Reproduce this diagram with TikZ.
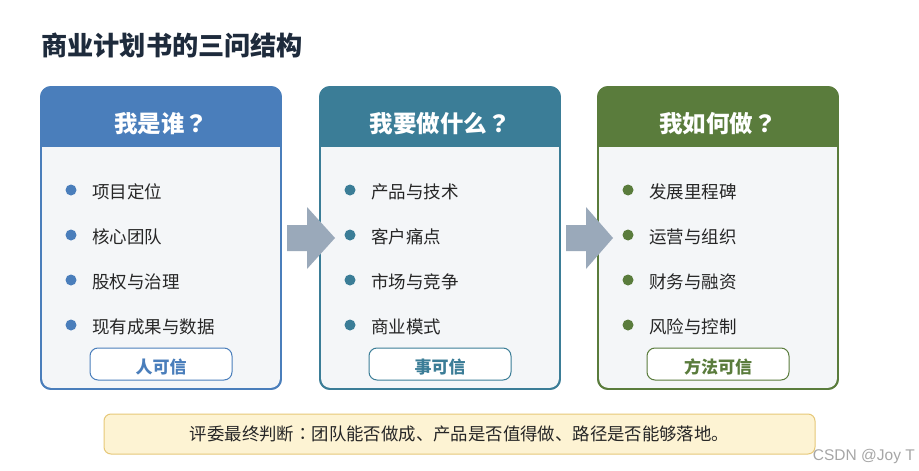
\documentclass[tikz,border=0pt]{standalone}
\usepackage{fontspec}
\setmainfont{Noto Sans CJK SC}
\newfontfamily\tcfont{Noto Sans CJK TC}
\newfontfamily\wmfont{Liberation Sans}
\newcommand{\fwq}{{\tcfont ？}}
\newcommand{\fwc}{{\tcfont ：}}
\usetikzlibrary{calc}
\definecolor{cblue}{HTML}{4A7EBB}
\definecolor{cteal}{HTML}{3B7D97}
\definecolor{cgreen}{HTML}{5A7C3C}
\definecolor{bodygray}{HTML}{F4F6F8}
\definecolor{titlecol}{HTML}{1E2B3C}
\definecolor{itemcol}{HTML}{262626}
\definecolor{arrowgray}{HTML}{9AA9BA}
\definecolor{notefill}{HTML}{FDF3D3}
\definecolor{notedraw}{HTML}{E6C878}
\tikzset{
  cardbox/.style={rectangle, rounded corners=10pt, minimum width=240pt, minimum height=302pt, outer sep=0pt, fill=bodygray, line width=1.8pt},
  headtext/.style={text=white, font=\fontsize{23.5}{26}\selectfont\bfseries, inner sep=0pt},
  dotmark/.style={circle, minimum size=11pt, inner sep=0pt},
  itemtext/.style={anchor=west, text=itemcol, font=\fontsize{17.5}{20}\selectfont, inner sep=0pt},
  btn/.style={rectangle, rounded corners=8pt, minimum width=142pt, minimum height=32pt, fill=white, line width=1pt, inner sep=0pt},
  btntext/.style={font=\fontsize{17}{20}\selectfont\bfseries, inner sep=0pt},
  blockarrow/.style={fill=arrowgray},
}
\begin{document}
\begin{tikzpicture}[x=1pt,y=-1pt]
\useasboundingbox (0,0) rectangle (919,471);
\fill[white] (0,0) rectangle (919,471);

\node[anchor=west, text=titlecol, font=\fontsize{26.2}{29}\selectfont\bfseries, inner sep=0pt] (title) at (41,46) {商业计划书的三问结构};

\foreach \i/\cx/\col/\head/\a/\b/\c/\d/\btxt in {
  1/161/cblue/我是谁\fwq/项目定位/核心团队/股权与治理/现有成果与数据/人可信,
  2/440/cteal/我要做什么\fwq/产品与技术/客户痛点/市场与竞争/商业模式/事可信,
  3/718/cgreen/我如何做\fwq/发展里程碑/运营与组织/财务与融资/风险与控制/方法可信}{
  \node[cardbox, draw=\col] (c\i) at (\cx,238) {};
  \begin{scope}
    \clip[rounded corners=10pt] (c\i.north west) rectangle (c\i.south east);
    \fill[\col] (c\i.north west) rectangle ($(c\i.north east)+(0,60)$);
  \end{scope}
  \draw[\col, line width=1.8pt, rounded corners=10pt] (c\i.north west) rectangle (c\i.south east);
  \node[headtext] (h\i) at ($(c\i.north)+(0,37)$) {\head};
  \node[dotmark, fill=\col] (d\i a) at ($(c\i.north west)+(30,103)$) {};
  \node[dotmark, fill=\col] (d\i b) at ($(c\i.north west)+(30,148)$) {};
  \node[dotmark, fill=\col] (d\i c) at ($(c\i.north west)+(30,193)$) {};
  \node[dotmark, fill=\col] (d\i d) at ($(c\i.north west)+(30,238)$) {};
  \node[itemtext] (t\i a) at ($(d\i a)+(21,2)$) {\a};
  \node[itemtext] (t\i b) at ($(d\i b)+(21,2)$) {\b};
  \node[itemtext] (t\i c) at ($(d\i c)+(21,2)$) {\c};
  \node[itemtext] (t\i d) at ($(d\i d)+(21,2)$) {\d};
  \node[btn, draw=\col] (b\i) at ($(c\i.south)+(0,-25)$) {};
  \node[btntext, text=\col] (bt\i) at ($(b\i.center)+(0,3)$) {\btxt};
}

% block arrows between cards
\foreach \p/\n in {1/2, 2/3}{
  \coordinate (s\p) at ($(c\p.east)+(6,0)$);
  \fill[blockarrow] ($(s\p)+(0,-13)$) -- ++(20,0) -- ++(0,-18) -- ($(c\n.west)+(15,0)$)
     -- ($(s\p)+(20,31)$) -- ++(0,-18) -- ($(s\p)+(0,13)$) -- cycle;
}

\node[rectangle, rounded corners=7pt, minimum width=711pt, minimum height=40pt, fill=notefill, draw=notedraw, line width=1pt, text=itemcol, font=\fontsize{17.4}{20}\selectfont, inner sep=0pt] (note) at (459.5,434) {评委最终判断\fwc 团队能否做成、产品是否值得做、路径是否能够落地。};

\node[anchor=east, text=black!35, font=\wmfont\fontsize{15.5}{17}\selectfont, inner sep=0pt] (wm) at (915,456) {CSDN @Joy T};
\end{tikzpicture}
\end{document}
